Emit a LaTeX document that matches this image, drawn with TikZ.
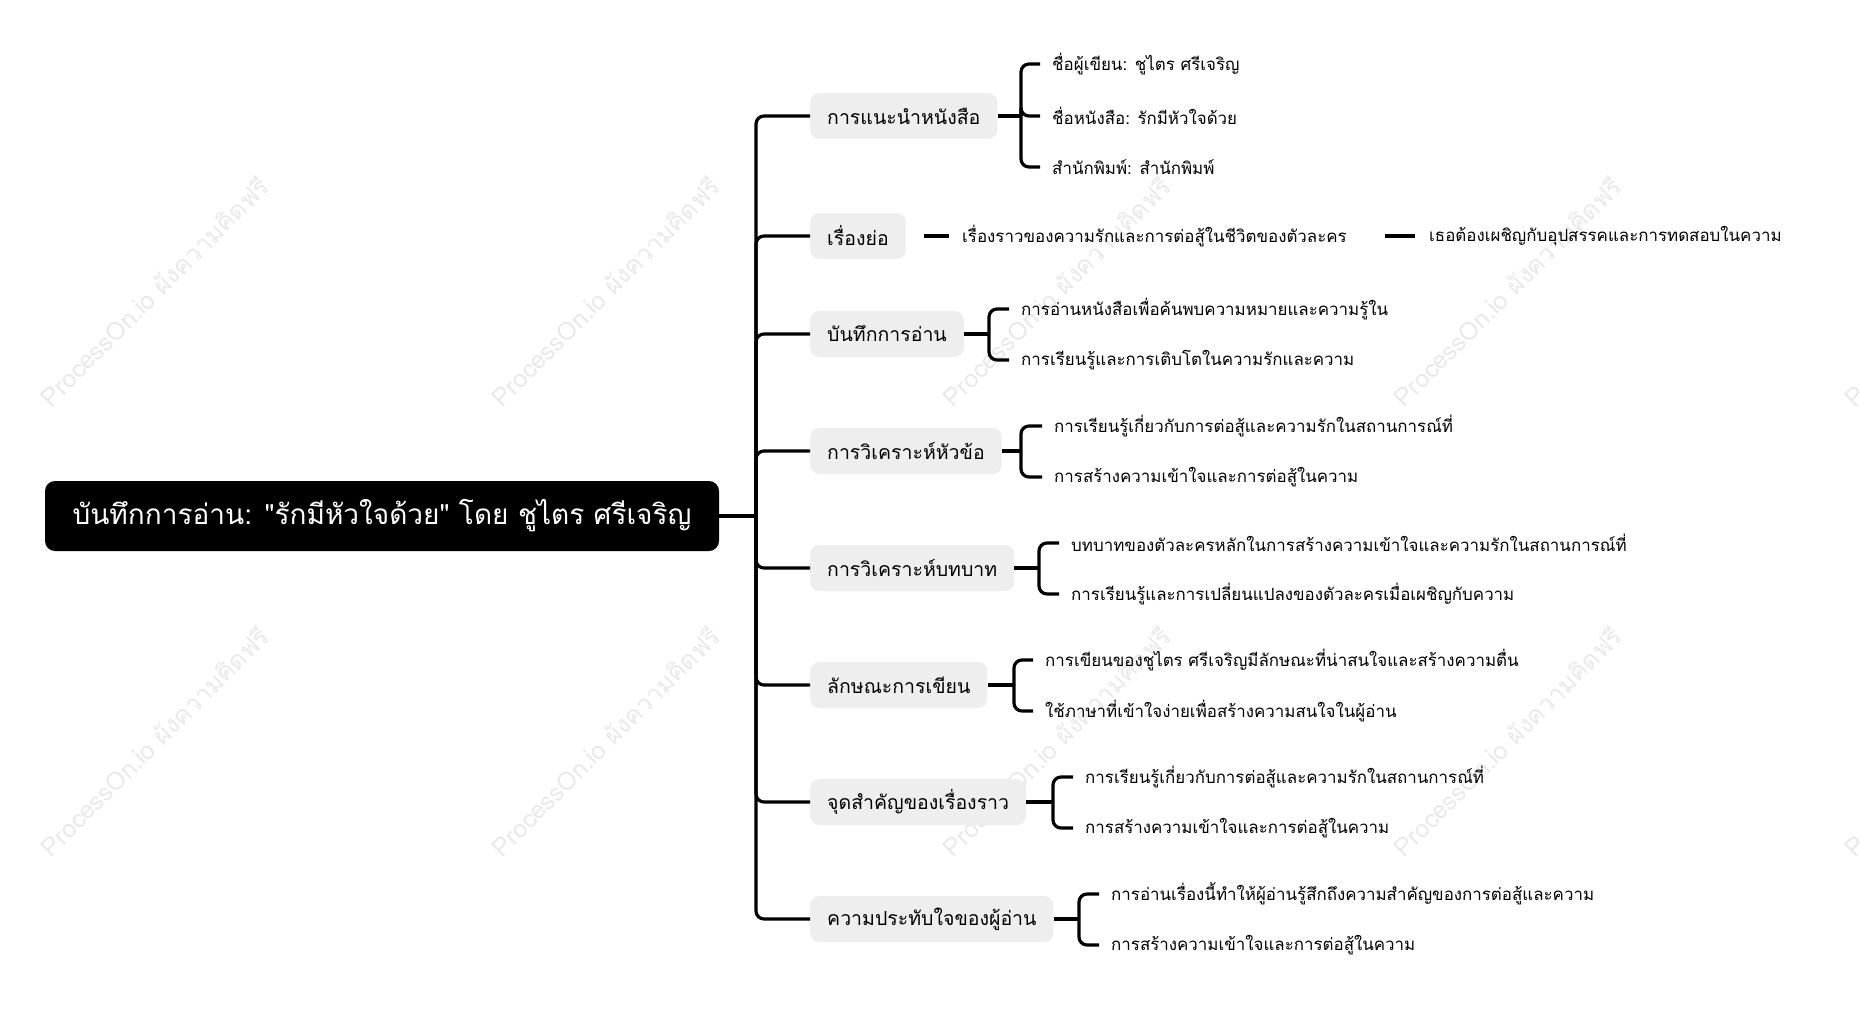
\documentclass[tikz,border=0pt]{standalone}
\usepackage{fontspec}
\newfontfamily\thai[Script=Thai]{Loma}
\usetikzlibrary{positioning}
\definecolor{nodegray}{HTML}{EEEEEE}
\definecolor{wm}{HTML}{E9E9E9}
\tikzset{
  rootbox/.style={fill=black, text=white, rounded corners=10pt, minimum width=674pt, minimum height=70pt, inner sep=0pt, font=\thai\fontsize{28}{32}\selectfont},
  branchbox/.style={fill=nodegray, text=black, rounded corners=9pt, minimum height=46pt, inner xsep=17pt, inner ysep=0pt, anchor=west, font=\thai\fontsize{19.5}{23}\selectfont},
  leaftext/.style={text=black, inner sep=0pt, anchor=west, font=\thai\fontsize{16.9}{20}\selectfont},
  conn/.style={draw=black, line width=3.2pt},
  bracket/.style={draw=black, line width=3.2pt, rounded corners=8pt},
  wmark/.style={text=wm, rotate=45, inner sep=0pt, font=\thai\fontsize{25}{28}\selectfont},
}
\begin{document}
\begin{tikzpicture}[x=1pt,y=-1pt]
\useasboundingbox (0,0) rectangle (1860,1022);
% watermarks
\begin{scope}
\clip (0,0) rectangle (1860,1022);
\foreach \wx in {154,605,1056,1507,1958}{
  \foreach \wy in {291,741}{
    \node[wmark] (wm-\wx-\wy) at (\wx,\wy) {ProcessOn.io ผังความคิดฟรี};
  }
}
\end{scope}
% root
\node[rootbox] (root) at (382,516) {บันทึกการอ่าน: "รักมีหัวใจด้วย" โดย ชูไตร ศรีเจริญ};
\coordinate (trunk) at (756,516);
% branches
\node[branchbox] (b1) at (810,116) {การแนะนำหนังสือ};
\node[branchbox] (b2) at (810,236) {เรื่องย่อ};
\node[branchbox] (b3) at (810,334) {บันทึกการอ่าน};
\node[branchbox] (b4) at (810,451) {การวิเคราะห์หัวข้อ};
\node[branchbox] (b5) at (810,568) {การวิเคราะห์บทบาท};
\node[branchbox] (b6) at (810,685) {ลักษณะการเขียน};
\node[branchbox] (b7) at (810,802) {จุดสำคัญของเรื่องราว};
\node[branchbox] (b8) at (810,919) {ความประทับใจของผู้อ่าน};
\draw[conn] (root.east) -- (trunk);
\foreach \b in {b1,b2,b3,b4,b5,b6,b7,b8}{
  \draw[bracket] (trunk) |- (\b.west);
}
% leaves
\node[leaftext] (l11) at (1052,64) {ชื่อผู้เขียน: ชูไตร ศรีเจริญ};
\node[leaftext] (l12) at (1052,116) {ชื่อหนังสือ: รักมีหัวใจด้วย};
\node[leaftext] (l13) at (1052,167) {สำนักพิมพ์: สำนักพิมพ์};
\node[leaftext] (l21) at (962,236) {เรื่องราวของความรักและการต่อสู้ในชีวิตของตัวละคร};
\node[leaftext] (l22) at (1429,236) {เธอต้องเผชิญกับอุปสรรคและการทดสอบในความ};
\node[leaftext] (l31) at (1021,309) {การอ่านหนังสือเพื่อค้นพบความหมายและความรู้ใน};
\node[leaftext] (l32) at (1021,360) {การเรียนรู้และการเติบโตในความรักและความ};
\node[leaftext] (l41) at (1054,426) {การเรียนรู้เกี่ยวกับการต่อสู้และความรักในสถานการณ์ที่};
\node[leaftext] (l42) at (1054,477) {การสร้างความเข้าใจและการต่อสู้ในความ};
\node[leaftext] (l51) at (1071,543) {บทบาทของตัวละครหลักในการสร้างความเข้าใจและความรักในสถานการณ์ที่};
\node[leaftext] (l52) at (1071,594) {การเรียนรู้และการเปลี่ยนแปลงของตัวละครเมื่อเผชิญกับความ};
\node[leaftext] (l61) at (1045,660) {การเขียนของชูไตร ศรีเจริญมีลักษณะที่น่าสนใจและสร้างความตื่น};
\node[leaftext] (l62) at (1045,711) {ใช้ภาษาที่เข้าใจง่ายเพื่อสร้างความสนใจในผู้อ่าน};
\node[leaftext] (l71) at (1085,777) {การเรียนรู้เกี่ยวกับการต่อสู้และความรักในสถานการณ์ที่};
\node[leaftext] (l72) at (1085,828) {การสร้างความเข้าใจและการต่อสู้ในความ};
\node[leaftext] (l81) at (1111,894) {การอ่านเรื่องนี้ทำให้ผู้อ่านรู้สึกถึงความสำคัญของการต่อสู้และความ};
\node[leaftext] (l82) at (1111,945) {การสร้างความเข้าใจและการต่อสู้ในความ};
% brackets
\foreach \b/\bx/\ls in {b1/1021/{l11,l12,l13}, b3/989/{l31,l32}, b4/1021/{l41,l42}, b5/1039/{l51,l52}, b6/1014/{l61,l62}, b7/1053/{l71,l72}, b8/1079/{l81,l82}}{
  \coordinate (\b-br) at (\bx,0);
  \draw[conn] (\b.east) -- (\b-br |- \b.east);
  \foreach \l in \ls {
    \draw[bracket] (\b-br |- \b.east) |- ([xshift=-12pt]\l.west);
  }
}
% summary chain
\draw[conn, shorten <=18pt, shorten >=13pt] (b2.east) -- (l21.west);
\draw[conn, shorten >=14pt] ([xshift=38pt]l21.east) -- (l22.west);
\end{tikzpicture}
\end{document}
